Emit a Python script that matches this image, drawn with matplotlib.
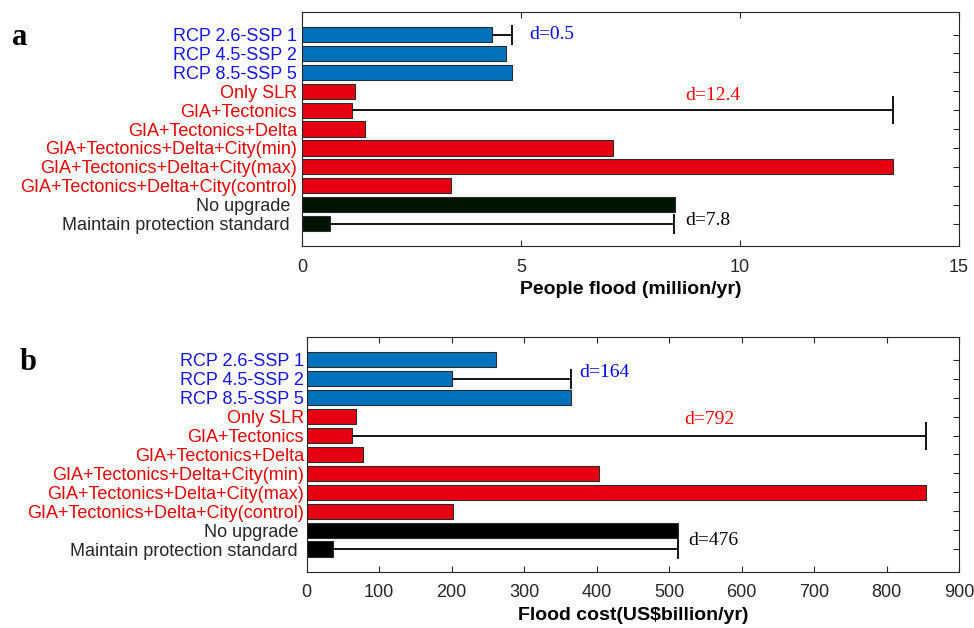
import numpy as np
import matplotlib
matplotlib.use('Agg')
import matplotlib.pyplot as plt
from matplotlib.transforms import ScaledTranslation

plt.rcParams['font.family'] = ['Liberation Sans', 'DejaVu Sans']

scenarios = ['RCP 2.6-SSP 1', 'RCP 4.5-SSP 2', 'RCP 8.5-SSP 5', 'Only SLR',
             'GIA+Tectonics', 'GIA+Tectonics+Delta',
             'GIA+Tectonics+Delta+City(min)', 'GIA+Tectonics+Delta+City(max)',
             'GIA+Tectonics+Delta+City(control)', 'No upgrade',
             'Maintain protection standard']
groups = ['ssp'] * 3 + ['vlm'] * 6 + ['prot'] * 2

# panel a: people flooded (million/yr)
people = [4.35, 4.66, 4.79, 1.22, 1.15, 1.43, 7.11, 13.5, 3.41, 8.51, 0.63]
# ranges shown as one-sided bars: (row, end value, label)
people_ranges = [(0, 4.8, 'd=0.5'), (4, 13.5, 'd=12.4'), (10, 8.5, 'd=7.8')]

# panel b: flood cost (US$ billion/yr)
cost = [261, 201, 365, 68, 63, 78, 403, 855, 202, 512, 36]
cost_ranges = [(1, 365, 'd=164'), (4, 855, 'd=792'), (10, 512, 'd=476')]

label_col = {'ssp': '#1414e6', 'vlm': '#e60000', 'prot': '#262626'}
text_col = {'ssp': 'blue', 'vlm': 'red', 'prot': 'black'}


def draw_panel(ax, vals, ranges, dark, xmax, xticks, xlabel, text_pos, ypad, extra):
    y = np.arange(len(vals))
    bar_col = {'ssp': '#0072bd', 'vlm': '#e60012', 'prot': dark}
    cols = [bar_col[g] for g in groups]
    ax.barh(y, vals, height=0.8, color=cols, edgecolor='#2a2a2a', linewidth=0.8, zorder=2)
    for (row, end, lab), (tx, ty) in zip(ranges, text_pos):
        ax.hlines(y[row], vals[row], end, color='black', linewidth=1.3, zorder=3)
        ax.plot([end], [y[row]], marker='|', markersize=20 if row == 4 else 14,
                markeredgewidth=1.3, color='black', zorder=3)
        ax.text(tx, ty, lab, color=text_col[groups[row]], fontsize=14,
                family=['Liberation Serif'], va='center', ha='left')
    ax.set_xlim(0, xmax)
    ax.set_ylim(len(vals) - 1 + 1.2, -1.2)
    ax.set_xticks(xticks)
    ax.set_yticks(y)
    ax.set_yticklabels(scenarios)
    ax.tick_params(axis='both', direction='in', top=True, right=True, length=4,
                   width=0.8, color='#262626', labelsize=13, labelcolor='#262626')
    ax.tick_params(axis='y', pad=ypad)
    ax.tick_params(axis='x', pad=9)
    for lab, g in zip(ax.get_yticklabels(), groups):
        lab.set_color(label_col[g])
        if g == 'prot':
            lab.set_transform(lab.get_transform() +
                              ScaledTranslation(-extra / 100, 0, ax.figure.dpi_scale_trans))
    for s in ax.spines.values():
        s.set_color('#262626')
        s.set_linewidth(0.8)
    ax.set_xlabel(xlabel, fontsize=14, fontweight='bold', labelpad=4)


fig = plt.figure(figsize=(9.74, 6.28), dpi=100)
ax1 = fig.add_axes([0.310, 0.608, 0.6746, 0.373])
ax2 = fig.add_axes([0.3149, 0.0896, 0.6697, 0.3734])

draw_panel(ax1, people, people_ranges, '#001400', 15, [0, 5, 10, 15],
           'People flood (million/yr)', [(5.2, 0), (8.75, 3.2), (8.75, 9.85)], 3.5, 7)
draw_panel(ax2, cost, cost_ranges, 'black', 900, np.arange(0, 901, 100),
           'Flood cost(US$billion/yr)', [(376, 0.64), (521, 3.15), (527, 9.56)], 2, 6)

fig.text(0.012, 0.94, 'a', fontsize=22, fontweight='bold', family=['Liberation Serif'],
         va='center', ha='left')
fig.text(0.020, 0.422, 'b', fontsize=22, fontweight='bold', family=['Liberation Serif'],
         va='center', ha='left')

fig.savefig('out.png', dpi=100)
